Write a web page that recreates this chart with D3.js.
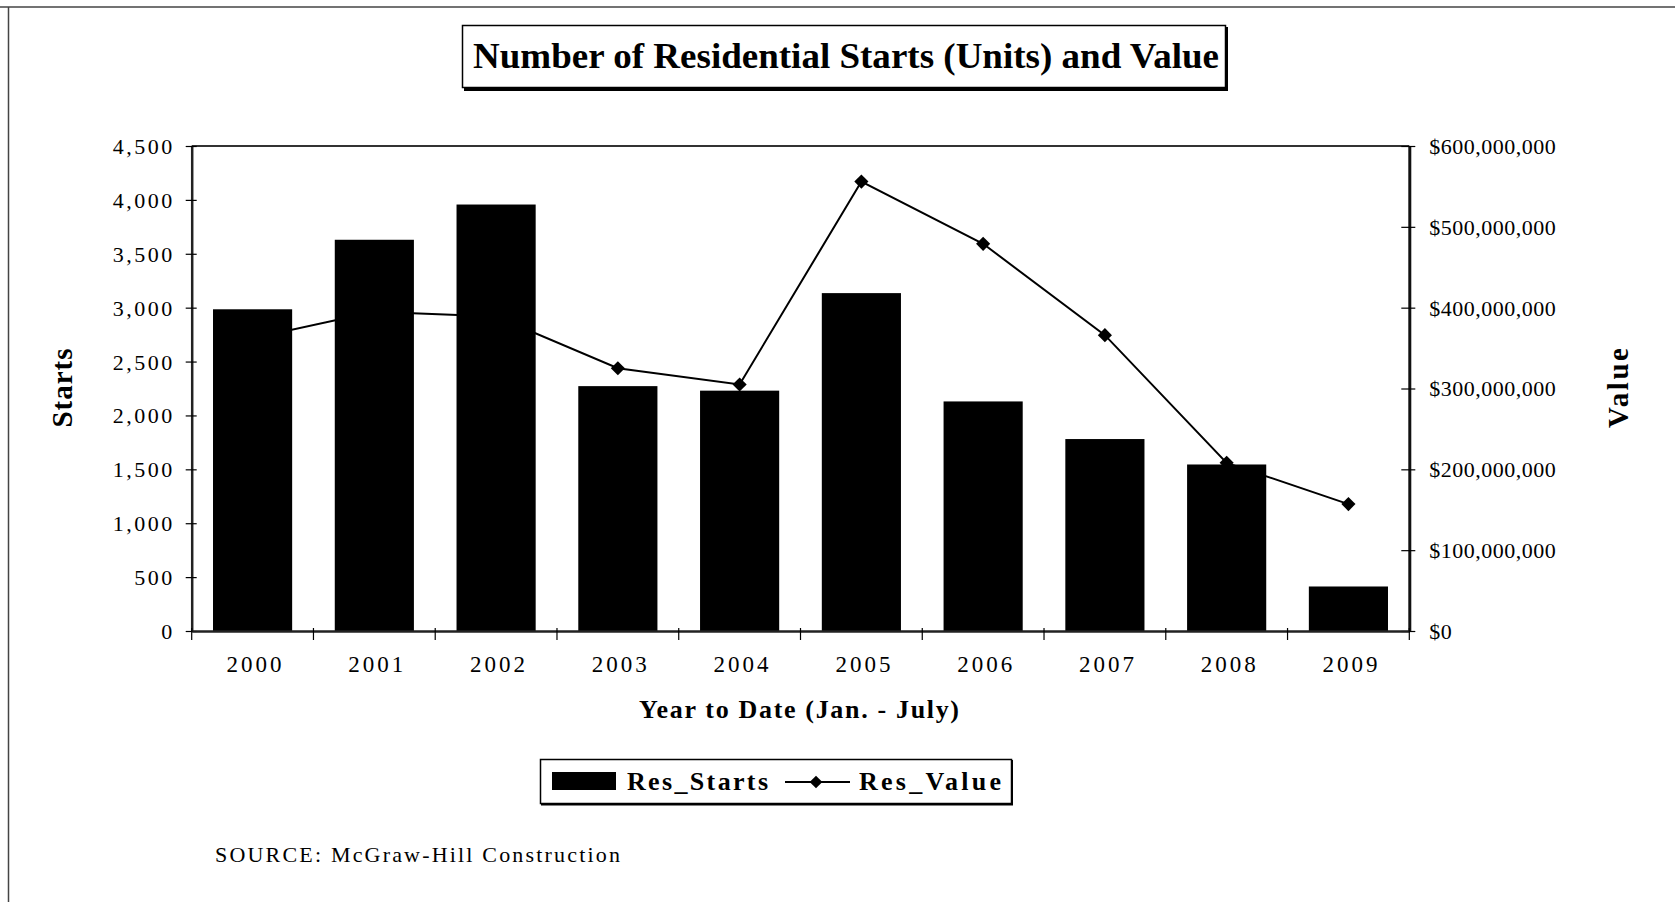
<!DOCTYPE html>
<html>
<head>
<meta charset="utf-8">
<script src="https://cdn.jsdelivr.net/npm/d3@7"></script>
<style>
  body { margin: 0; background: #fff; }
  svg { display: block; }
  text { font-family: "Liberation Serif", "Times New Roman", serif; fill: #000; }
</style>
</head>
<body>
<svg id="chart" width="1675" height="902"></svg>
<script>
// values
const years = ['2000', '2001', '2002', '2003', '2004', '2005', '2006', '2007', '2008', '2009'];
const resStarts = [2985, 3630, 3957, 2272, 2230, 3135, 2130, 1781, 1545, 413];
const resValue = [362e6, 395e6, 389e6, 325e6, 305e6, 556e6, 479e6, 366e6, 208e6, 157e6];
const startTicks = [0, 500, 1000, 1500, 2000, 2500, 3000, 3500, 4000, 4500];
const valueTicks = [0, 1e8, 2e8, 3e8, 4e8, 5e8, 6e8];

const plot = { left: 191.7, right: 1409.3, top: 146, bottom: 631 };

const svg = d3.select('#chart');

// outer frame (top + left edges only visible in the scan)
svg.append('line').attr('x1', 0).attr('x2', 1675).attr('y1', 7).attr('y2', 7)
  .attr('stroke', '#444').attr('stroke-width', 1.5);
svg.append('line').attr('x1', 8.5).attr('x2', 8.5).attr('y1', 7).attr('y2', 902)
  .attr('stroke', '#444').attr('stroke-width', 1.5);

// title box
svg.append('rect').attr('x', 462.5).attr('y', 25.5).attr('width', 763).attr('height', 62)
  .attr('fill', 'none').attr('stroke', '#000').attr('stroke-width', 1.5);
svg.append('path').attr('d', 'M1226.5,27V89.5H464')
  .attr('fill', 'none').attr('stroke', '#000').attr('stroke-width', 3);
svg.append('text').attr('x', 473).attr('y', 68)
  .attr('textLength', 746).attr('lengthAdjust', 'spacingAndGlyphs')
  .style('font-size', '35px').style('font-weight', 'bold')
  .text('Number of Residential Starts (Units) and Value');

// scales
const x = d3.scaleBand().domain(years).range([plot.left, plot.right])
  .paddingInner(0.35).paddingOuter(0.175);
const yL = d3.scaleLinear().domain([0, 4500]).range([plot.bottom, plot.top]);
const yR = d3.scaleLinear().domain([0, 600e6]).range([plot.bottom, plot.top]);

// plot top border
svg.append('line').attr('x1', plot.left).attr('x2', plot.right)
  .attr('y1', plot.top).attr('y2', plot.top)
  .attr('stroke', '#333').attr('stroke-width', 2);

// line series sits behind the bars in the original
const cx = d => x(d) + x.bandwidth() / 2;
const lineGen = d3.line().x((d, i) => cx(years[i])).y(d => yR(d));
svg.append('path').datum(resValue)
  .attr('d', lineGen)
  .attr('fill', 'none').attr('stroke', '#000').attr('stroke-width', 2);
svg.append('g').selectAll('path')
  .data(resValue)
  .join('path')
  .attr('d', d3.symbol(d3.symbolSquare, 100))
  .attr('transform', (d, i) => `translate(${cx(years[i])},${yR(d)}) rotate(45)`)
  .attr('fill', '#000');

// bars
svg.append('g').selectAll('rect')
  .data(resStarts)
  .join('rect')
  .attr('x', (d, i) => x(years[i]))
  .attr('width', x.bandwidth())
  .attr('y', d => yL(d))
  .attr('height', d => yL(0) - yL(d))
  .attr('fill', '#000');

// left axis
const gL = svg.append('g').attr('transform', `translate(${plot.left},0)`)
  .call(d3.axisLeft(yL).tickValues(startTicks).tickFormat(d3.format(','))
    .tickSizeInner(6).tickSizeOuter(0));
gL.select('.domain').attr('stroke', '#222').attr('stroke-width', 2.5);
gL.selectAll('.tick line').attr('x1', 5).attr('stroke-width', 1.2);
gL.selectAll('.tick text').attr('x', -17).attr('dy', '0.34em')
  .style('font-size', '22px').style('letter-spacing', '2.5px');

// right axis
const gR = svg.append('g').attr('transform', `translate(${plot.right},0)`)
  .call(d3.axisRight(yR).tickValues(valueTicks).tickFormat(d => '$' + d3.format(',')(d))
    .tickSizeInner(6).tickSizeOuter(0));
gR.select('.domain').attr('stroke', '#111').attr('stroke-width', 3);
gR.selectAll('.tick line').attr('x1', -8).attr('stroke-width', 1.2);
gR.selectAll('.tick text').attr('x', 20).attr('dy', '0.34em')
  .style('font-size', '22px').style('letter-spacing', '0.5px');

// bottom axis, ticks at category boundaries
const gB = svg.append('g').attr('transform', `translate(0,${plot.bottom})`)
  .call(d3.axisBottom(x).tickSize(0).tickSizeOuter(0));
gB.select('.domain').attr('stroke', '#222').attr('stroke-width', 2.5);
gB.selectAll('.tick text').attr('y', 41).attr('dy', 0).attr('dx', 3)
  .style('font-size', '23px').style('letter-spacing', '3px');
const bounds = years.map(y => x(y) - x.step() * x.paddingInner() / 2).concat([plot.right]);
svg.append('g').selectAll('line')
  .data(bounds)
  .join('line')
  .attr('x1', d => d).attr('x2', d => d)
  .attr('y1', plot.bottom - 3).attr('y2', plot.bottom + 9)
  .attr('stroke', '#000').attr('stroke-width', 1.2);

// axis titles
svg.append('text').attr('transform', 'translate(72,388) rotate(-90)')
  .attr('text-anchor', 'middle').attr('textLength', 79).attr('lengthAdjust', 'spacing')
  .style('font-size', '29px').style('font-weight', 'bold').text('Starts');
svg.append('text').attr('transform', 'translate(1628,388) rotate(-90)')
  .attr('text-anchor', 'middle').attr('textLength', 80).attr('lengthAdjust', 'spacing')
  .style('font-size', '29px').style('font-weight', 'bold').text('Value');
svg.append('text').attr('x', 639).attr('y', 718)
  .attr('textLength', 320).attr('lengthAdjust', 'spacing')
  .style('font-size', '26px').style('font-weight', 'bold').text('Year to Date (Jan. - July)');

// legend
const lg = svg.append('g');
lg.append('rect').attr('x', 540.5).attr('y', 759.5).attr('width', 471).attr('height', 44)
  .attr('fill', '#fff').attr('stroke', '#000').attr('stroke-width', 1.5);
lg.append('path').attr('d', 'M1012,760V804.5H541').attr('fill', 'none')
  .attr('stroke', '#000').attr('stroke-width', 2);
lg.append('rect').attr('x', 552).attr('y', 772).attr('width', 64).attr('height', 18).attr('fill', '#000');
lg.append('text').attr('x', 627).attr('y', 790)
  .attr('textLength', 141).attr('lengthAdjust', 'spacing')
  .style('font-size', '26px').style('font-weight', 'bold').text('Res_Starts');
lg.append('line').attr('x1', 785).attr('x2', 850).attr('y1', 782).attr('y2', 782)
  .attr('stroke', '#000').attr('stroke-width', 2);
lg.append('path').attr('d', d3.symbol(d3.symbolSquare, 80))
  .attr('transform', 'translate(816,782) rotate(45)').attr('fill', '#000');
lg.append('text').attr('x', 859).attr('y', 790)
  .attr('textLength', 142).attr('lengthAdjust', 'spacing')
  .style('font-size', '26px').style('font-weight', 'bold').text('Res_Value');

// source note
svg.append('text').attr('x', 215).attr('y', 862)
  .attr('textLength', 405).attr('lengthAdjust', 'spacing')
  .style('font-size', '22px').text('SOURCE:  McGraw-Hill Construction');
</script>
</body>
</html>
